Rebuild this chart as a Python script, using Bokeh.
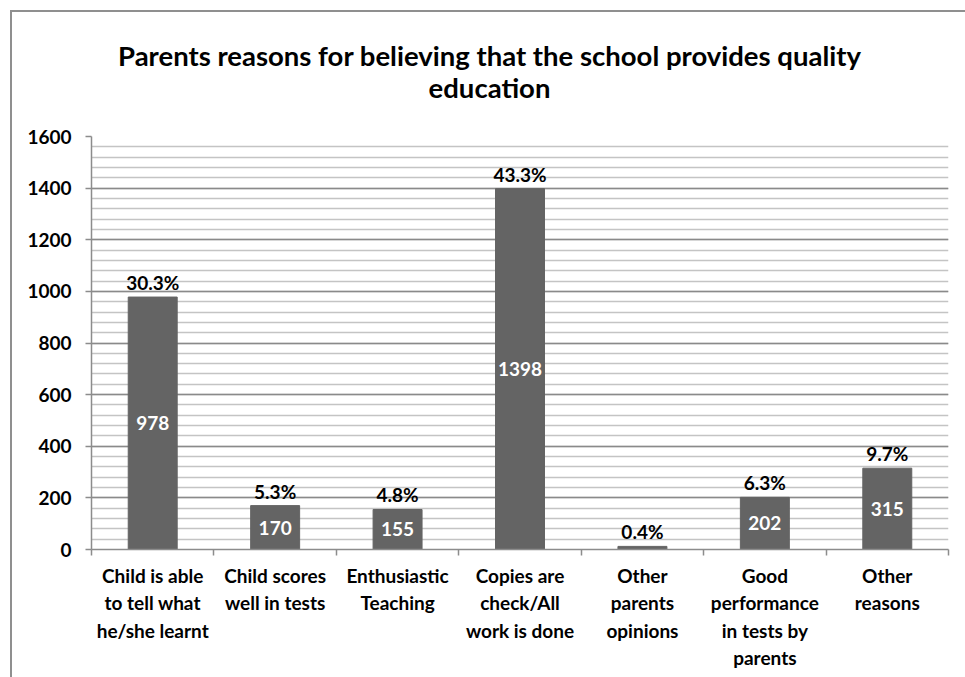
from bokeh.plotting import figure
from bokeh.models import (FixedTicker, Range1d, ColumnDataSource, LabelSet, Div)
from bokeh.layouts import column
from bokeh.core.properties import value
from bokeh.embed import file_html
from bokeh.resources import INLINE

# ---- data ----
categories = [
    "Child is able\nto tell what\nhe/she learnt",
    "Child scores\nwell in tests",
    "Enthusiastic\nTeaching",
    "Copies are\ncheck/All\nwork is done",
    "Other\nparents\nopinions",
    "Good\nperformance\nin tests by\nparents",
    "Other\nreasons",
]
counts = [978, 170, 155, 1398, 12, 202, 315]
percent_labels = ["30.3%", "5.3%", "4.8%", "43.3%", "0.4%", "6.3%", "9.7%"]
value_labels = ["978", "170", "155", "1398", "", "202", "315"]
y_ticks = [0, 200, 400, 600, 800, 1000, 1200, 1400, 1600]
y_minor_ticks = list(range(0, 1601, 40))
title_lines = ["Parents reasons for believing that the school provides quality",
               "education"]

FONT = "Lato"
BAR = "#646464"
GRAY = "#8c8c8c"
BORDER = "#8f8f8f"

n = len(categories)
centers = [i + 0.5 for i in range(n)]
bounds = list(range(n + 1))

src = ColumnDataSource(dict(x=centers, top=counts, pct=percent_labels))
keep = [i for i, v in enumerate(value_labels) if v]
vsrc = ColumnDataSource(dict(x=[centers[i] for i in keep],
                             half=[counts[i] / 2 for i in keep],
                             val=[value_labels[i] for i in keep]))

TITLE_H = 100
title_div = Div(
    text=("<div style=\"width:955px; padding:28px 0 0 0; text-align:center; "
          f"font-family:{FONT}; font-weight:bold; font-size:27.5px; "
          "line-height:32px; color:black;\">" + "<br>".join(title_lines) + "</div>"),
    width=955, height=TITLE_H, margin=0)

p = figure(width=955, height=567, output_backend="svg", toolbar_location=None,
           x_range=Range1d(0, n), y_range=Range1d(0, 1600),
           min_border_left=79, min_border_right=19, min_border_top=124 - TITLE_H,
           min_border_bottom=130, margin=0)
p.outline_line_color = None
p.background_fill_color = "white"
p.border_fill_color = "white"

p.vbar(x="x", top="top", bottom=0, width=0.4, color=BAR, source=src)

# grid
p.xgrid.grid_line_color = None
p.ygrid.grid_line_color = "#8a8a8a"
p.ygrid.grid_line_width = 1.5
p.ygrid.minor_grid_line_color = "#c4c4c4"
p.ygrid.minor_grid_line_width = 1.5

# y axis
yax = p.yaxis[0]
yax.ticker = FixedTicker(ticks=y_ticks, minor_ticks=y_minor_ticks)
yax.axis_line_color = GRAY
yax.axis_line_width = 1.5
yax.major_tick_line_color = GRAY
yax.major_tick_line_width = 1.5
yax.major_tick_out = 6
yax.major_tick_in = 0
yax.minor_tick_out = 0
yax.minor_tick_in = 0
yax.major_label_text_font = FONT
yax.major_label_text_font_style = "bold"
yax.major_label_text_font_size = "19px"
yax.major_label_text_color = "black"
yax.major_label_standoff = 14

# x axis: labels at category centres, tick marks at category boundaries
xax = p.xaxis[0]
xax.ticker = FixedTicker(ticks=centers, minor_ticks=bounds)
xax.major_label_overrides = {c: lab for c, lab in zip(centers, categories)}
xax.axis_line_color = GRAY
xax.axis_line_width = 1.5
xax.major_tick_line_color = None
xax.major_tick_out = 6
xax.major_tick_in = 0
xax.minor_tick_line_color = GRAY
xax.minor_tick_line_width = 1.5
xax.minor_tick_out = 6
xax.minor_tick_in = 0
xax.major_label_text_font = FONT
xax.major_label_text_font_style = "bold"
xax.major_label_text_font_size = "19px"
xax.major_label_text_color = "black"
xax.major_label_standoff = 8

# data labels
p.add_layout(LabelSet(x="x", y="top", text="pct", source=src, y_offset=3,
                      text_align="center", text_baseline="bottom",
                      text_font=value(FONT), text_font_style="bold",
                      text_font_size="19px", text_color="black"))
p.add_layout(LabelSet(x="x", y="half", text="val", source=vsrc,
                      text_align="center", text_baseline="middle",
                      text_font=value(FONT), text_font_style="bold",
                      text_font_size="19px", text_color="white"))

layout = column(title_div, p, spacing=0)
layout.margin = (10, 0, 0, 10)
layout.styles = {"border-top": f"2px solid {BORDER}",
                 "border-left": f"2px solid {BORDER}",
                 "background-color": "white"}

open("out.html", "w").write(file_html(layout, INLINE))
